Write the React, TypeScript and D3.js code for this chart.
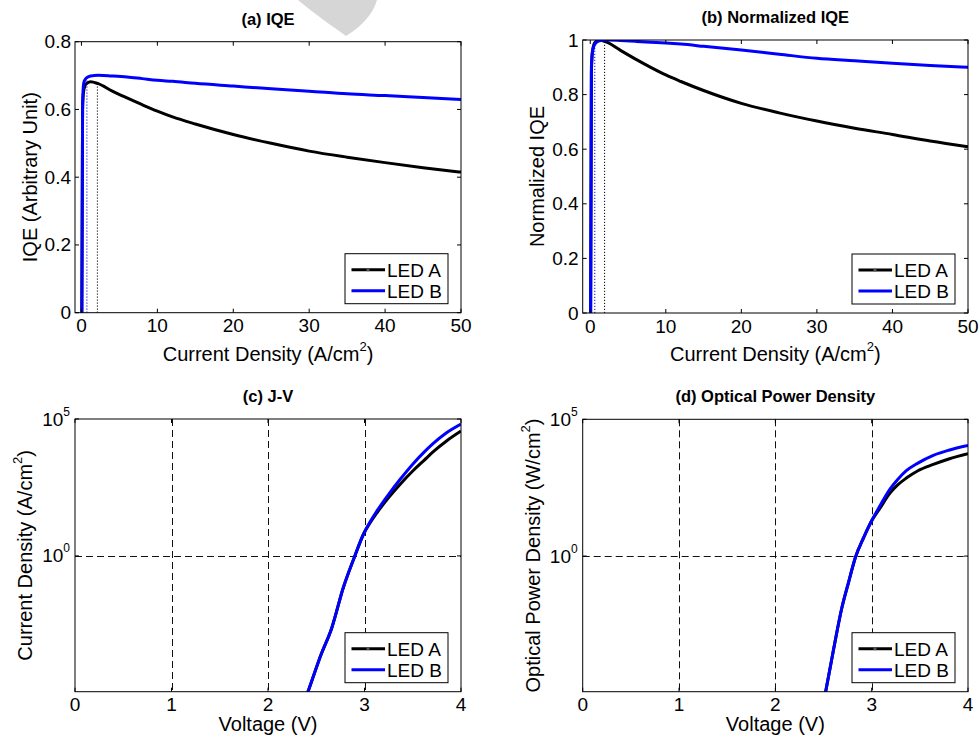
import React, { useEffect, useRef } from 'react';
import * as d3 from 'd3';

// (a) / (b): current density grid and efficiency curves
const jGrid = [0.05, 0.15, 0.3, 0.6, 1.2, 2.2, 4, 6, 8, 10, 12, 15, 20, 25, 30, 35, 40, 45, 50];
const iqeLedA = [0, 0.6, 0.655, 0.675, 0.682, 0.676, 0.655, 0.634, 0.614, 0.595, 0.578, 0.557, 0.526, 0.5, 0.477, 0.459, 0.443, 0.428, 0.415];
const iqeLedB = [0, 0.62, 0.678, 0.692, 0.699, 0.701, 0.699, 0.696, 0.691, 0.686, 0.683, 0.677, 0.669, 0.661, 0.654, 0.646, 0.641, 0.635, 0.629];
const normLedA = [0, 0.88, 0.96, 0.99, 1.0, 0.992, 0.962, 0.93, 0.9, 0.872, 0.848, 0.815, 0.768, 0.733, 0.703, 0.677, 0.654, 0.63, 0.609];
const normLedB = [0, 0.9, 0.96, 0.985, 0.997, 1.0, 0.998, 0.995, 0.992, 0.989, 0.985, 0.977, 0.963, 0.948, 0.933, 0.924, 0.915, 0.907, 0.9];
// dotted markers [J, value] for LED A, LED B
const iqeMarks = [[2.1, 0.68], [0.72, 0.694]];
const normMarks = [[1.9, 1], [0.6, 1]];

// (c) J-V
const jvVoltA = [2.38, 2.45, 2.55, 2.66, 2.78, 2.9, 2.99, 3.06, 3.125, 3.25, 3.37, 3.5, 3.62, 3.71, 3.85, 4.0];
const jvCurA = [5e-6, 2.5e-5, 2.5e-4, 2.3e-3, 6.9e-2, 1.0, 6.3, 16.6, 36, 135, 417, 1260, 3160, 6300, 15800, 36300];
const jvVoltB = [2.38, 2.45, 2.55, 2.66, 2.78, 2.9, 2.99, 3.06, 3.125, 3.25, 3.37, 3.5, 3.62, 3.71, 3.85, 4.0];
const jvCurB = [5e-6, 2.5e-5, 2.5e-4, 2.3e-3, 6.9e-2, 1.0, 6.3, 18, 42, 178, 630, 2240, 6300, 12600, 31600, 66000];

// (d) optical power density
const lvVoltA = [2.5, 2.52, 2.6, 2.69, 2.76, 2.83, 2.92, 3.0, 3.08, 3.19, 3.27, 3.36, 3.48, 3.64, 3.8, 4.0];
const lvPowA = [4e-6, 1e-5, 3.2e-4, 1.26e-2, 0.11, 0.87, 5, 19.5, 52, 200, 400, 710, 1320, 2240, 3550, 5500];
const lvVoltB = [2.5, 2.52, 2.6, 2.69, 2.76, 2.83, 2.92, 3.0, 3.08, 3.19, 3.27, 3.36, 3.48, 3.64, 3.8, 4.0];
const lvPowB = [4e-6, 1e-5, 3.2e-4, 1.26e-2, 0.11, 0.87, 5, 19.5, 63, 280, 630, 1320, 2500, 4800, 7400, 11000];

const ledNames = ['LED A', 'LED B'];
const ledColors = ['#000000', '#0000ff'];

const iqeTicksX = [0, 10, 20, 30, 40, 50];
const iqeTicksY = [0, 0.2, 0.4, 0.6, 0.8];
const normTicksY = [0, 0.2, 0.4, 0.6, 0.8, 1];
const voltTicks = [0, 1, 2, 3, 4];
const logTicks = [1, 1e5];
const gridVolts = [1, 2, 3];

const FONT = '"Liberation Sans", Arial, Helvetica, sans-serif';

const panels = [
  {
    id: 'a', title: '(a) IQE', left: 75, right: 461, top: 41.7, bottom: 312.7,
    xDomain: [-0.85, 50], yDomain: [0, 0.8], log: false,
    xTicks: iqeTicksX, yTicks: iqeTicksY,
    series: [jGrid.map((j, i) => [j, iqeLedA[i]]), jGrid.map((j, i) => [j, iqeLedB[i]])],
    marks: iqeMarks,
    xLabel: 'Current Density (A/cm', xSup: '2', xLabelDy: 48,
    yLabel: 'IQE (Arbitrary Unit)', ySup: '', yLabelX: 37,
  },
  {
    id: 'b', title: '(b) Normalized IQE', left: 582.7, right: 968, top: 40, bottom: 313,
    xDomain: [-1, 50], yDomain: [0, 1], log: false,
    xTicks: iqeTicksX, yTicks: normTicksY,
    series: [jGrid.map((j, i) => [j, normLedA[i]]), jGrid.map((j, i) => [j, normLedB[i]])],
    marks: normMarks,
    xLabel: 'Current Density (A/cm', xSup: '2', xLabelDy: 48,
    yLabel: 'Normalized IQE', ySup: '', yLabelX: 544,
  },
  {
    id: 'c', title: '(c) J-V', left: 75, right: 461, top: 419, bottom: 691.7,
    xDomain: [0, 4], yDomain: [1.1e-5, 1e5], log: true,
    xTicks: voltTicks, yTicks: logTicks,
    series: [jvVoltA.map((v, i) => [v, jvCurA[i]]), jvVoltB.map((v, i) => [v, jvCurB[i]])],
    marks: [],
    xLabel: 'Voltage (V)', xSup: '', xLabelDy: 39.5,
    yLabel: 'Current Density (A/cm', ySup: '2', yLabelX: 32,
  },
  {
    id: 'd', title: '(d) Optical Power Density', left: 582.7, right: 968, top: 419.3, bottom: 691.7,
    xDomain: [0, 4], yDomain: [1.1e-5, 1e5], log: true,
    xTicks: voltTicks, yTicks: logTicks,
    series: [lvVoltA.map((v, i) => [v, lvPowA[i]]), lvVoltB.map((v, i) => [v, lvPowB[i]])],
    marks: [],
    xLabel: 'Voltage (V)', xSup: '', xLabelDy: 39.5,
    yLabel: 'Optical Power Density (W/cm', ySup: '2', yLabelX: 540,
  },
];

function drawPanel(svg: any, p: any) {
  const g = svg.append('g').attr('class', 'panel_' + p.id);
  const x = d3.scaleLinear().domain(p.xDomain).range([p.left, p.right]);
  const y = p.log
    ? d3.scaleLog().domain(p.yDomain).range([p.bottom, p.top])
    : d3.scaleLinear().domain(p.yDomain).range([p.bottom, p.top]);

  // dashed grid only on the log panels
  if (p.log) {
    g.selectAll('.gridx')
      .data(gridVolts)
      .join('line')
      .attr('x1', (d: number) => Math.round(x(d)) + 0.5).attr('x2', (d: number) => Math.round(x(d)) + 0.5)
      .attr('y1', p.top).attr('y2', p.bottom)
      .attr('stroke', '#111').attr('stroke-width', 1).attr('stroke-dasharray', '7,4');
    g.append('line')
      .attr('x1', p.left).attr('x2', p.right)
      .attr('y1', Math.round(y(1)) + 0.5).attr('y2', Math.round(y(1)) + 0.5)
      .attr('stroke', '#111').attr('stroke-width', 1).attr('stroke-dasharray', '7,4');
  }

  const clipId = 'clip_' + p.id;
  g.append('clipPath').attr('id', clipId)
    .append('rect')
    .attr('x', p.left).attr('y', p.top)
    .attr('width', p.right - p.left).attr('height', p.bottom - p.top);

  const line = d3.line<number[]>()
    .x(d => x(d[0]))
    .y(d => y(Math.max(d[1], p.log ? 1e-7 : -1)))
    .curve(d3.curveMonotoneX);

  const curves = g.append('g').attr('clip-path', `url(#${clipId})`);
  curves.selectAll('path')
    .data(p.series)
    .join('path')
    .attr('d', (d: any) => line(d))
    .attr('fill', 'none')
    .attr('stroke', (d: any, i: number) => ledColors[i])
    .attr('stroke-width', 3)
    .attr('stroke-linejoin', 'round');

  // dotted verticals at the efficiency peaks
  curves.selectAll('.mark')
    .data(p.marks)
    .join('line')
    .attr('class', 'mark')
    .attr('x1', (d: number[]) => x(d[0])).attr('x2', (d: number[]) => x(d[0]))
    .attr('y1', p.bottom).attr('y2', (d: number[]) => y(d[1]))
    .attr('stroke', (d: any, i: number) => ledColors[i])
    .attr('stroke-width', 1)
    .attr('stroke-dasharray', '1.2,1.8');

  // box
  g.append('rect')
    .attr('x', p.left).attr('y', p.top)
    .attr('width', p.right - p.left).attr('height', p.bottom - p.top)
    .attr('fill', 'none').attr('stroke', '#000').attr('stroke-width', 1);

  // ticks, inside, mirrored
  const tl = 4;
  g.selectAll('.xt')
    .data(p.xTicks)
    .join('path')
    .attr('d', (d: number) => `M${x(d)},${p.bottom}v${-tl}M${x(d)},${p.top}v${tl}`)
    .attr('stroke', '#000');
  g.selectAll('.yt')
    .data(p.yTicks)
    .join('path')
    .attr('class', 'yt')
    .attr('d', (d: number) => `M${p.left},${y(d)}h${tl}M${p.right},${y(d)}h${-tl}`)
    .attr('stroke', '#000');

  const tickFont = 19;
  g.selectAll('.xl')
    .data(p.xTicks)
    .join('text')
    .attr('class', 'xl')
    .attr('x', (d: number) => x(d))
    .attr('y', p.bottom + 19.5)
    .attr('text-anchor', 'middle')
    .attr('font-size', tickFont)
    .text((d: number) => String(d));

  if (p.log) {
    const lab = g.selectAll('.yl')
      .data(p.yTicks)
      .join('text')
      .attr('class', 'yl')
      .attr('x', p.left - 5)
      .attr('y', (d: number) => y(d) + 6.5)
      .attr('text-anchor', 'end')
      .attr('font-size', tickFont);
    lab.append('tspan').text('10');
    lab.append('tspan')
      .attr('dy', -10).attr('font-size', 12)
      .text((d: number) => String(Math.round(Math.log10(d))));
  } else {
    g.selectAll('.yl')
      .data(p.yTicks)
      .join('text')
      .attr('class', 'yl')
      .attr('x', p.left - 4)
      .attr('y', (d: number) => y(d) + 6.5)
      .attr('text-anchor', 'end')
      .attr('font-size', tickFont)
      .text((d: number) => String(d));
  }

  // title
  g.append('text')
    .attr('x', (p.left + p.right) / 2)
    .attr('y', p.top - 17)
    .attr('text-anchor', 'middle')
    .attr('font-size', 16.5)
    .attr('font-weight', 'bold')
    .text(p.title);

  // x label
  const xl = g.append('text')
    .attr('x', (p.left + p.right) / 2)
    .attr('y', p.bottom + p.xLabelDy)
    .attr('text-anchor', 'middle')
    .attr('font-size', 20);
  xl.append('tspan').text(p.xLabel);
  if (p.xSup) {
    xl.append('tspan').attr('dy', -10).attr('font-size', 13).text(p.xSup);
    xl.append('tspan').attr('dy', 10).text(')');
  }

  // y label
  const yl = g.append('text')
    .attr('transform', `translate(${p.yLabelX},${(p.top + p.bottom) / 2}) rotate(-90)`)
    .attr('text-anchor', 'middle')
    .attr('font-size', 20);
  yl.append('tspan').text(p.yLabel);
  if (p.ySup) {
    yl.append('tspan').attr('dy', -10).attr('font-size', 13).text(p.ySup);
    yl.append('tspan').attr('dy', 10).text(')');
  }

  // legend
  const lw = 103, lh = 50;
  const lx = p.right - 13 - lw, ly = p.bottom - 9 - lh;
  const leg = g.append('g').attr('transform', `translate(${lx},${ly})`);
  leg.append('rect')
    .attr('width', lw).attr('height', lh)
    .attr('fill', '#fff').attr('stroke', '#000').attr('stroke-width', 1);
  const rows = leg.selectAll('.row')
    .data(ledNames)
    .join('g')
    .attr('class', 'row')
    .attr('transform', (d: string, i: number) => `translate(0,${i === 0 ? 16 : 37})`);
  rows.append('line')
    .attr('x1', 6.5).attr('x2', 40)
    .attr('stroke', (d: string, i: number) => ledColors[i])
    .attr('stroke-width', 3);
  rows.filter((d: string, i: number) => i === 0)
    .append('circle')
    .attr('cx', 23).attr('r', 1.6).attr('fill', '#555');
  rows.append('text')
    .attr('x', 42)
    .attr('y', 7)
    .attr('font-size', 19)
    .text((d: string) => d);
}

export default function App() {
  const ref = useRef<SVGSVGElement>(null);

  useEffect(() => {
    const svg = d3.select(ref.current);
    svg.selectAll('*').remove();
    svg.append('rect').attr('width', 980).attr('height', 735).attr('fill', '#fff');
    // faint grey watermark at the top
    svg.append('path')
      .attr('d', 'M298,0 L377,0 C373,14 362,26 346,36 C332,26 312,12 298,0 Z')
      .attr('fill', '#d6d6d6');
    panels.forEach(p => drawPanel(svg, p));
  }, []);

  return (
    <svg
      ref={ref}
      width={980}
      height={735}
      style={{ position: 'absolute', left: 0, top: 0, fontFamily: FONT }}
    />
  );
}
